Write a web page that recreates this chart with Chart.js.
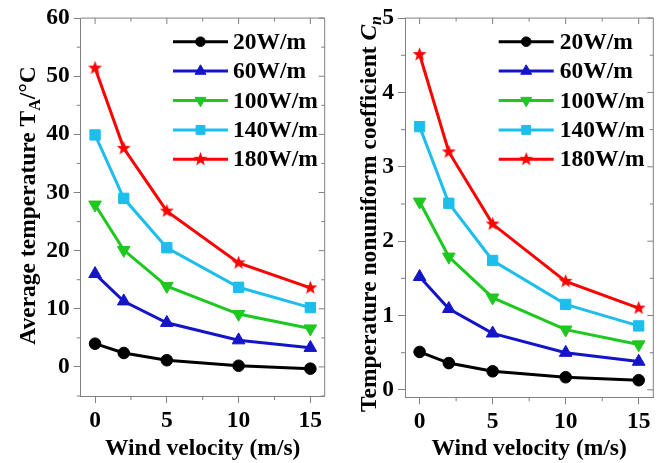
<!DOCTYPE html>
<html>
<head>
<meta charset="utf-8">
<script src="https://cdn.jsdelivr.net/npm/chart.js@4"></script>
<style>
  body { margin: 0; background: #fff; }
  #wrap { display: flex; width: 666px; height: 463px; }
  canvas { display: block; }
</style>
</head>
<body>
<div id="wrap">
  <canvas id="tempChart" width="333" height="463"></canvas>
  <canvas id="cnChart" width="333" height="463"></canvas>
</div>
<script>
// x values (wind velocity, m/s)
const windSpeed = [0, 2, 5, 10, 15];
const seriesLabels = ['20W/m', '60W/m', '100W/m', '140W/m', '180W/m'];

// average temperature T_A (°C)
const temp20 = [4.0, 2.4, 1.15, 0.2, -0.3];
const temp60 = [16.0, 11.3, 7.6, 4.6, 3.3];
const temp100 = [27.9, 20.1, 13.9, 9.1, 6.6];
const temp140 = [39.9, 29.0, 20.5, 13.7, 10.2];
const temp180 = [51.4, 37.6, 26.8, 17.9, 13.6];

// temperature nonuniform coefficient Cn
const cn20 = [0.51, 0.36, 0.25, 0.17, 0.13];
const cn60 = [1.52, 1.09, 0.76, 0.50, 0.38];
const cn100 = [2.53, 1.79, 1.24, 0.81, 0.61];
const cn140 = [3.54, 2.51, 1.74, 1.15, 0.86];
const cn180 = [4.51, 3.20, 2.23, 1.46, 1.10];

// ticks
const windTicks = [0, 5, 10, 15];
const windMinor = [2.5, 7.5, 12.5];
const tempTicks = [0, 10, 20, 30, 40, 50, 60];
const tempMinor = [-5, 5, 15, 25, 35, 45, 55];
const cnTicks = [0, 1, 2, 3, 4, 5];
const cnMinor = [0.5, 1.5, 2.5, 3.5, 4.5];

const colors = ['#000000', '#1414c8', '#1ec81e', '#1ebeec', '#ff0000'];
const axisGrey = '#808080';
const serif = "'Liberation Serif', 'Times New Roman', serif";

function starCanvas(color, r) {
    const s = Math.ceil(r * 2) + 2;
    const c = document.createElement('canvas');
    c.width = s; c.height = s;
    const g = c.getContext('2d');
    g.fillStyle = color;
    g.beginPath();
    for (let i = 0; i < 10; i++) {
        const rr = i % 2 ? r * 0.42 : r;
        const a = -Math.PI / 2 + i * Math.PI / 5;
        const px = s / 2 + rr * Math.cos(a), py = s / 2 + rr * Math.sin(a);
        if (i === 0) g.moveTo(px, py); else g.lineTo(px, py);
    }
    g.closePath();
    g.fill();
    return c;
}

const markers = [
    { pointStyle: 'circle', radius: 5.8, rotation: 0 },
    { pointStyle: 'triangle', radius: 7.3, rotation: 0 },
    { pointStyle: 'triangle', radius: 7.3, rotation: 180 },
    { pointStyle: 'rect', radius: 7.3, rotation: 0 },
    { pointStyle: starCanvas(colors[4], 7.3), radius: 7.3, rotation: 0 }
];

function makeDatasets(series) {
    return series.map((vals, i) => ({
        label: seriesLabels[i],
        data: windSpeed.map((x, k) => ({ x: x, y: vals[k] })),
        borderColor: colors[i],
        backgroundColor: colors[i],
        borderWidth: 3,
        pointStyle: markers[i].pointStyle,
        pointRadius: markers[i].radius,
        pointRotation: markers[i].rotation,
        pointBorderWidth: 1,
        tension: 0,
        fill: false
    }));
}

function drawVerticalTitle(ctx, parts, baseX, centerY) {
    ctx.save();
    let total = 0;
    parts.forEach(p => { ctx.font = p.font; total += ctx.measureText(p.text).width; });
    ctx.translate(baseX, centerY);
    ctx.rotate(-Math.PI / 2);
    ctx.fillStyle = '#000';
    ctx.textBaseline = 'alphabetic';
    ctx.textAlign = 'left';
    let x = -total / 2;
    parts.forEach(p => {
        ctx.font = p.font;
        ctx.fillText(p.text, x, p.dy || 0);
        x += ctx.measureText(p.text).width;
    });
    ctx.restore();
}

// frame, minor ticks, mirrored ticks, y title and legend
const extrasPlugin = {
    id: 'extras',
    afterDraw(chart, args, opts) {
        const ctx = chart.ctx;
        const area = chart.chartArea;
        const xs = chart.scales.x, ys = chart.scales.y;
        ctx.save();
        ctx.strokeStyle = axisGrey;
        ctx.lineWidth = 1;
        ctx.beginPath();
        ctx.moveTo(area.left, area.top); ctx.lineTo(area.right, area.top);
        ctx.lineTo(area.right, area.bottom);
        // top / right mirrored major ticks
        opts.xMajor.forEach(v => {
            const px = xs.getPixelForValue(v);
            ctx.moveTo(px, area.top); ctx.lineTo(px, area.top + 6);
        });
        opts.yMajor.forEach(v => {
            const py = ys.getPixelForValue(v);
            ctx.moveTo(area.right, py); ctx.lineTo(area.right - 6, py);
        });
        // minor ticks
        opts.xMinor.forEach(v => {
            const px = xs.getPixelForValue(v);
            ctx.moveTo(px, area.top); ctx.lineTo(px, area.top + 3.5);
            ctx.moveTo(px, area.bottom); ctx.lineTo(px, area.bottom + 4);
        });
        opts.yMinor.forEach(v => {
            const py = ys.getPixelForValue(v);
            ctx.moveTo(area.right, py); ctx.lineTo(area.right - 3.5, py);
            ctx.moveTo(area.left, py); ctx.lineTo(area.left - 4, py);
        });
        ctx.stroke();
        ctx.restore();

        drawVerticalTitle(ctx, opts.yTitle, opts.yTitleX, opts.yTitleY);

        // legend
        const lg = opts.legend;
        chart.data.datasets.forEach((ds, i) => {
            const y = lg.top + i * lg.step;
            ctx.save();
            ctx.strokeStyle = ds.borderColor;
            ctx.fillStyle = ds.backgroundColor;
            ctx.lineWidth = 3;
            ctx.beginPath();
            ctx.moveTo(lg.x0, y); ctx.lineTo(lg.x1, y);
            ctx.stroke();
            ctx.lineWidth = 1;
            Chart.helpers.drawPoint(ctx, {
                pointStyle: ds.pointStyle,
                rotation: ds.pointRotation,
                radius: ds.pointRadius - 1,
                borderWidth: 1
            }, (lg.x0 + lg.x1) / 2, y);
            ctx.fillStyle = '#000';
            ctx.font = 'bold 23.5px ' + serif;
            ctx.textBaseline = 'middle';
            ctx.textAlign = 'left';
            ctx.fillText(ds.label, lg.tx, y + 1);
            ctx.restore();
        });
    }
};

function axisCommon(min, max, major, fitFn) {
    return {
        type: 'linear',
        min: min,
        max: max,
        afterBuildTicks: s => { s.ticks = major.map(v => ({ value: v })); },
        afterFit: fitFn,
        grid: { display: true, drawOnChartArea: false, drawTicks: true, tickLength: 7, tickColor: axisGrey, tickWidth: 1 },
        border: { display: true, color: axisGrey, width: 1 },
        ticks: { color: '#000', padding: 4, font: { family: serif, size: 23.5, weight: 'bold' } }
    };
}

function buildChart(id, series, cfg) {
    const ctx = document.getElementById(id).getContext('2d');
    const xAxis = axisCommon(-1, 16, windTicks, s => { s.height = 463 - cfg.area.bottom; });
    xAxis.title = {
        display: true, text: 'Wind velocity (m/s)', color: '#000',
        font: { family: serif, size: 23.5, weight: 'bold' },
        padding: { top: 0, bottom: 0 }
    };
    const yAxis = axisCommon(cfg.yMin, cfg.yMax, cfg.yMajor, s => { s.width = cfg.area.left; });
    return new Chart(ctx, {
        type: 'line',
        data: { datasets: makeDatasets(series) },
        options: {
            responsive: false,
            animation: false,
            layout: { padding: { left: 0, top: cfg.area.top, right: 333 - cfg.area.right, bottom: 0 } },
            scales: { x: xAxis, y: yAxis },
            plugins: {
                legend: { display: false },
                tooltip: { enabled: false },
                extras: {
                    xMajor: windTicks, xMinor: windMinor,
                    yMajor: cfg.yMajor, yMinor: cfg.yMinor,
                    yTitle: cfg.yTitle, yTitleX: cfg.yTitleX, yTitleY: cfg.yTitleY,
                    legend: cfg.legend
                }
            }
        },
        plugins: [extrasPlugin]
    });
}

const bold23 = 'bold 23.5px ' + serif;

buildChart('tempChart', [temp20, temp60, temp100, temp140, temp180], {
    area: { left: 80.7, right: 328.3, top: 18, bottom: 396 },
    yMin: -5, yMax: 60, yMajor: tempTicks, yMinor: tempMinor,
    yTitle: [
        { text: 'Average temperature T', font: bold23 },
        { text: 'A', font: 'bold 16px ' + serif, dy: 5 },
        { text: '/°C', font: bold23 }
    ],
    yTitleX: 35, yTitleY: 205.5,
    legend: { x0: 173, x1: 228, tx: 233, top: 41.7, step: 29.4 }
});

buildChart('cnChart', [cn20, cn60, cn100, cn140, cn180], {
    area: { left: 72, right: 320.3, top: 17, bottom: 397.3 },
    yMin: -0.1, yMax: 5, yMajor: cnTicks, yMinor: cnMinor,
    yTitle: [
        { text: 'Temperature nonuniform coefficient ', font: bold23 },
        { text: 'C', font: 'italic bold 23.5px ' + serif },
        { text: 'n', font: 'italic bold 16px ' + serif, dy: 5 }
    ],
    yTitleX: 43, yTitleY: 214,
    legend: { x0: 165.7, x1: 220.7, tx: 226.7, top: 41.7, step: 29.4 }
});
</script>
</body>
</html>
